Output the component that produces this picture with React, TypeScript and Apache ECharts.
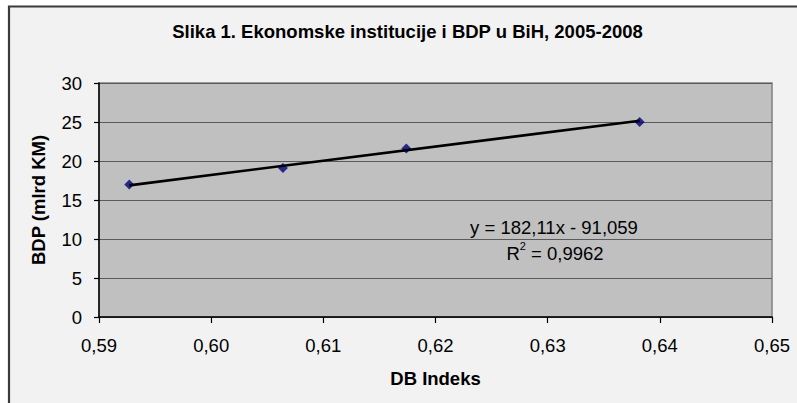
import React, { useEffect, useRef } from "react";
import * as echarts from "echarts";

const titleText = "Slika 1. Ekonomske institucije i BDP u BiH, 2005-2008";
const xAxisName = "DB Indeks";
const yAxisName = "BDP (mlrd KM)";
const dbIndex = [0.5927, 0.6064, 0.6174, 0.6382];
const gdp = [17.0, 19.1, 21.6, 25.0];
const trendSlope = 182.11;
const trendIntercept = -91.059;
const equationText = "y = 182,11x - 91,059";
const r2Text = "0,9962";

const FONT = "'Liberation Sans', Arial, sans-serif";
const FS = 18.5;

export default function App() {
  const ref = useRef<HTMLDivElement>(null);
  useEffect(() => {
    document.body.style.margin = "0";
    const chart = echarts.init(ref.current!, null, { renderer: "svg" });
    const points = dbIndex.map((x, i) => [x, gdp[i]]);
    const xMin = Math.min(...dbIndex);
    const xMax = Math.max(...dbIndex);
    const trend = [
      [xMin, trendSlope * xMin + trendIntercept],
      [xMax, trendSlope * xMax + trendIntercept],
    ];
    chart.setOption({
      animation: false,
      backgroundColor: "#ffffff",
      textStyle: { fontFamily: FONT },
      title: {
        text: titleText,
        left: 402.5,
        top: 17,
        textAlign: "center",
        textStyle: { fontFamily: FONT, fontSize: FS, fontWeight: "bold", color: "#000" },
      },
      graphic: [
        {
          type: "rect",
          z: -10,
          silent: true,
          shape: { x: 9, y: 6.5, width: 820, height: 420 },
          style: { fill: "#f2f2f2", stroke: "#3a3a3a", lineWidth: 2.2 },
        },
        {
          type: "text",
          z: 10,
          x: 554,
          y: 227,
          style: {
            text: equationText,
            fontFamily: FONT,
            fontSize: FS,
            fill: "#000",
            align: "center",
            verticalAlign: "middle",
          },
        },
        {
          type: "text",
          z: 10,
          x: 555,
          y: 253,
          style: {
            text: "{r|R}{s|2}{r| = " + r2Text + "}",
            fontFamily: FONT,
            fontSize: FS,
            fill: "#000",
            align: "center",
            verticalAlign: "middle",
            rich: {
              r: { fontFamily: FONT, fontSize: FS, fill: "#000" },
              s: { fontFamily: FONT, fontSize: 11, fill: "#000", verticalAlign: "top", lineHeight: 26 },
            },
          },
        },
      ],
      grid: {
        left: 99,
        right: 25,
        top: 83,
        bottom: 86,
        show: true,
        backgroundColor: "#c0c0c0",
        borderColor: "#808080",
        borderWidth: 1.5,
      },
      xAxis: {
        type: "value",
        min: 0.59,
        max: 0.65,
        interval: 0.01,
        name: xAxisName,
        nameLocation: "middle",
        nameGap: 52,
        nameTextStyle: { fontFamily: FONT, fontSize: FS, fontWeight: "bold", color: "#000" },
        axisLine: { show: true, lineStyle: { color: "#000", width: 1.5 } },
        axisTick: { show: true, inside: false, length: 6, lineStyle: { color: "#000", width: 1.2 } },
        axisLabel: {
          margin: 19,
          fontFamily: FONT,
          fontSize: FS,
          color: "#000",
          formatter: (v: number) => v.toFixed(2).replace(".", ","),
        },
        splitLine: { show: false },
      },
      yAxis: {
        type: "value",
        min: 0,
        max: 30,
        interval: 5,
        name: yAxisName,
        nameLocation: "middle",
        nameGap: 51,
        nameRotate: 90,
        nameTextStyle: { fontFamily: FONT, fontSize: FS, fontWeight: "bold", color: "#000" },
        axisLine: { show: true, lineStyle: { color: "#000", width: 1.5 } },
        axisTick: { show: true, inside: false, length: 5, lineStyle: { color: "#000", width: 1.2 } },
        axisLabel: { margin: 17, fontFamily: FONT, fontSize: FS, color: "#000" },
        splitLine: { show: true, lineStyle: { color: "#5a5a5a", width: 1 } },
      },
      series: [
        {
          type: "scatter",
          data: points,
          symbol: "diamond",
          symbolSize: 10,
          itemStyle: { color: "#000080" },
          z: 2,
        },
        {
          type: "line",
          data: trend,
          symbol: "none",
          lineStyle: { color: "#000", width: 2.6 },
          z: 3,
        },
      ],
    });
    return () => chart.dispose();
  }, []);
  return <div ref={ref} style={{ width: 797, height: 403 }} />;
}
